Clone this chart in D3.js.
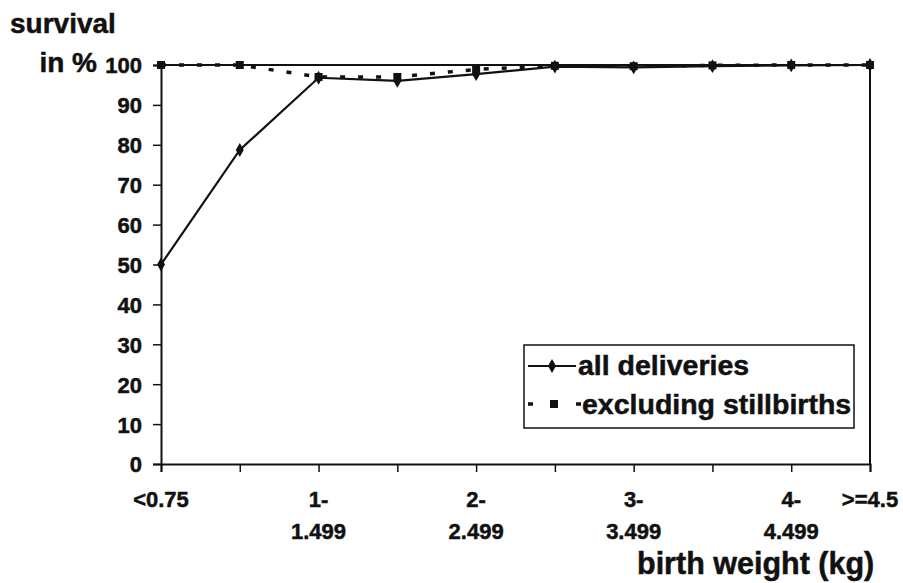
<!DOCTYPE html>
<html>
<head>
<meta charset="utf-8">
<script src="https://cdn.jsdelivr.net/npm/d3@7"></script>
<style>
  body { margin: 0; background: #fff; }
  text { font-family: "Liberation Sans", Arial, sans-serif; font-weight: bold; fill: #111; stroke: #111; stroke-width: 0.5px; }
</style>
</head>
<body>
<svg id="chart" width="903" height="583"></svg>
<script>
// birth weight groups
const categories = ['<0.75', '0.75-', '1-', '1.5-', '2-', '2.5-', '3-', '3.5-', '4-', '>=4.5']
const tickTop = ['<0.75', '', '1-', '', '2-', '', '3-', '', '4-', '>=4.5']
const tickBottom = ['', '', '1.499', '', '2.499', '', '3.499', '', '4.499', '']

// survival in %
const allDeliveries = [50, 78.7, 96.8, 96.0, 97.7, 99.6, 99.4, 99.7, 99.9, 100]
const exclStillbirths = [100, 100, 97.0, 97.0, 98.9, 99.8, 99.7, 99.9, 100, 100]

const yTicks = [0, 10, 20, 30, 40, 50, 60, 70, 80, 90, 100]

let svg = d3.select('#chart')

let x = d3.scalePoint().domain(categories).range([161, 870])
let y = d3.scaleLinear().domain([0, 100]).range([464, 65])

// plot border (top + right)
svg.append('path')
    .attr('d', `M${x.range()[0]},${y(100)}H${x.range()[1]}V${y(0)}`)
    .attr('fill', 'none').attr('stroke', '#111').attr('stroke-width', 2)

// y axis
let yAxis = svg.append('g')
    .attr('transform', `translate(${x.range()[0]},0)`)
    .call(d3.axisLeft(y).tickValues(yTicks).tickSize(8).tickPadding(11))
yAxis.select('.domain').attr('stroke', '#111').attr('stroke-width', 2)
yAxis.selectAll('line').attr('stroke', '#111').attr('stroke-width', 1.5)
yAxis.selectAll('text').style('font-size', '22px').attr('dy', '0.36em')

// x axis
let xAxis = svg.append('g')
    .attr('transform', `translate(0,${y(0)})`)
    .call(d3.axisBottom(x).tickSize(8).tickFormat(''))
xAxis.select('.domain').attr('stroke', '#111').attr('stroke-width', 2)
xAxis.selectAll('line').attr('stroke', '#111').attr('stroke-width', 1.5)

svg.append('g').selectAll('text')
    .data(categories)
    .enter()
    .append('text')
    .attr('x', (d) => x(d))
    .attr('y', 507)
    .attr('text-anchor', 'middle')
    .style('font-size', '22px')
    .text((d, i) => tickTop[i])

svg.append('g').selectAll('text')
    .data(categories)
    .enter()
    .append('text')
    .attr('x', (d) => x(d))
    .attr('y', 539)
    .attr('text-anchor', 'middle')
    .style('font-size', '22px')
    .text((d, i) => tickBottom[i])

// titles
svg.append('text').attr('x', 10).attr('y', 33).style('font-size', '28px').text('survival')
svg.append('text').attr('x', 97).attr('y', 72).attr('text-anchor', 'end').style('font-size', '28px').text('in %')
svg.append('text').attr('x', 637).attr('y', 574).style('font-size', '30.5px').text('birth weight (kg)')

// lines
let line = d3.line().x((d, i) => x(categories[i])).y((d) => y(d))

svg.append('path')
    .datum(exclStillbirths)
    .attr('d', line)
    .attr('fill', 'none').attr('stroke', '#111').attr('stroke-width', 3.5)
    .attr('stroke-dasharray', '5,13')

svg.append('path')
    .datum(allDeliveries)
    .attr('d', line)
    .attr('fill', 'none').attr('stroke', '#111').attr('stroke-width', 2.2)

// markers
svg.append('g').selectAll('rect')
    .data(exclStillbirths)
    .enter()
    .append('rect')
    .attr('x', (d, i) => x(categories[i]) - 4)
    .attr('y', (d) => y(d) - 4)
    .attr('width', 8).attr('height', 8)
    .attr('fill', '#111')

svg.append('g').selectAll('path')
    .data(allDeliveries)
    .enter()
    .append('path')
    .attr('d', d3.symbol().type(d3.symbolDiamond).size(55))
    .attr('transform', (d, i) => `translate(${x(categories[i])},${y(d)})`)
    .attr('fill', '#111')

// legend
let legend = svg.append('g').attr('transform', 'translate(524,345)')
legend.append('rect').attr('width', 330).attr('height', 83)
    .attr('fill', '#fff').attr('stroke', '#111').attr('stroke-width', 1.5)
legend.append('line').attr('x1', 4).attr('x2', 52).attr('y1', 21).attr('y2', 21)
    .attr('stroke', '#111').attr('stroke-width', 2.2)
legend.append('path').attr('d', d3.symbol().type(d3.symbolDiamond).size(55))
    .attr('transform', 'translate(28,21)').attr('fill', '#111')
legend.append('line').attr('x1', 4).attr('x2', 58).attr('y1', 59).attr('y2', 59)
    .attr('stroke', '#111').attr('stroke-width', 3.5).attr('stroke-dasharray', '5,19')
legend.append('rect').attr('x', 26).attr('y', 55).attr('width', 8).attr('height', 8).attr('fill', '#111')
legend.append('text').attr('x', 54).attr('y', 30).style('font-size', '28.5px').text('all deliveries')
legend.append('text').attr('x', 58).attr('y', 69).style('font-size', '28.5px').text('excluding stillbirths')
</script>
</body>
</html>
